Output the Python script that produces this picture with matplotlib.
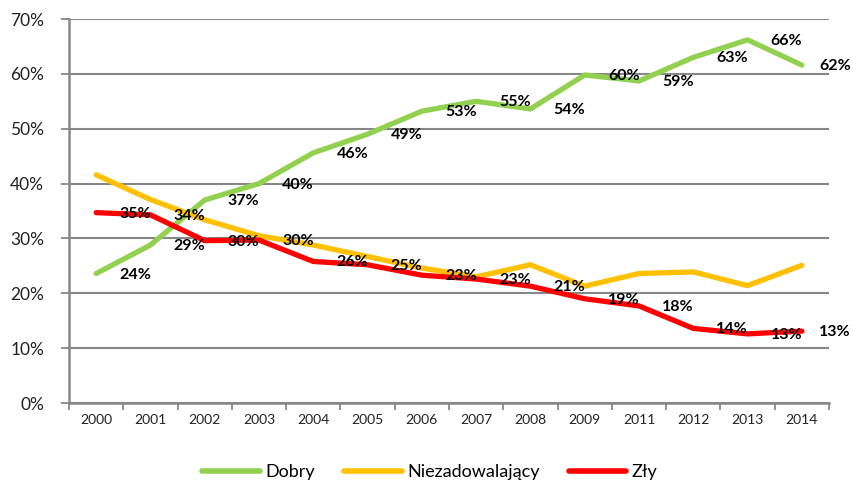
import matplotlib
matplotlib.use("Agg")
import matplotlib.pyplot as plt
import numpy as np
from matplotlib.transforms import offset_copy

years = ["2000", "2001", "2002", "2003", "2004", "2005", "2006", "2007",
         "2008", "2009", "2011", "2012", "2013", "2014"]
dobry = [23.6, 28.8, 37.0, 40.0, 45.6, 49.0, 53.2, 55.0, 53.6, 59.8, 58.7, 63.0, 66.2, 61.6]
niezadowalajacy = [41.6, 37.1, 33.4, 30.5, 28.8, 26.7, 24.6, 23.0, 25.2, 21.3, 23.6, 23.9, 21.4, 25.1]
zly = [34.7, 34.3, 29.6, 29.7, 25.8, 25.2, 23.3, 22.6, 21.3, 19.0, 17.7, 13.6, 12.6, 13.1]
yticks = [0, 10, 20, 30, 40, 50, 60, 70]

GREEN = "#92D050"
ORANGE = "#FFC000"
RED = "#FF0000"
GRAY = "#878787"

plt.rcParams['font.family'] = ['Lato', 'DejaVu Sans']

fig = plt.figure(figsize=(8.54, 4.82), dpi=100)
ax = fig.add_axes([69/854, 1-403/482, (829-69)/854, (403-19)/482])

x = np.arange(len(years))
lw = 3.8
ax.plot(x, dobry, color=GREEN, lw=lw, solid_capstyle='round', label="Dobry", zorder=3)
ax.plot(x, niezadowalajacy, color=ORANGE, lw=lw, solid_capstyle='round', label="Niezadowalający", zorder=3)
ax.plot(x, zly, color=RED, lw=lw, solid_capstyle='round', label="Zły", zorder=3)

for series in (dobry, zly):
    for i, v in enumerate(series):
        dx = 39 if i < len(series) - 1 else 33
        tr = offset_copy(ax.transData, fig=fig, x=dx, y=-1, units='dots')
        ax.text(i, v, f"{round(v):.0f}%", transform=tr, ha='center', va='center',
                fontsize=11.5, fontweight='bold', color='black', zorder=5, clip_on=False)

ax.set_xlim(-0.5, len(years) - 0.5)
ax.set_ylim(0, 70)
ax.set_yticks(yticks)
ax.set_yticklabels([f"{t}%" for t in yticks], fontsize=12.5, color="#222222")
ax.set_xticks(x)
ax.set_xticklabels(years, fontsize=10, color="#222222")
ax.set_xticks(np.arange(-0.5, len(years)), minor=True)
ax.tick_params(axis='x', which='major', length=0, pad=8)
ax.tick_params(axis='x', which='minor', length=5, width=1.3, color=GRAY, direction='out')
ax.tick_params(axis='y', length=6, width=1.3, color=GRAY, direction='out', pad=12)

ax.grid(axis='y', color=GRAY, lw=1.5, zorder=0)
ax.set_axisbelow(True)
for s in ('top', 'right'):
    ax.spines[s].set_visible(False)
for s in ('left', 'bottom'):
    ax.spines[s].set_color(GRAY)
    ax.spines[s].set_linewidth(1.8)

leg = fig.legend(loc='center', bbox_to_anchor=(430/854, 1-472/482), ncol=3, frameon=False,
                 fontsize=13, handlelength=3.2, handletextpad=0.3, columnspacing=1.6)
for h in leg.get_lines():
    h.set_linewidth(4)
    h.set_solid_capstyle('round')

fig.savefig("out.png", dpi=100)
